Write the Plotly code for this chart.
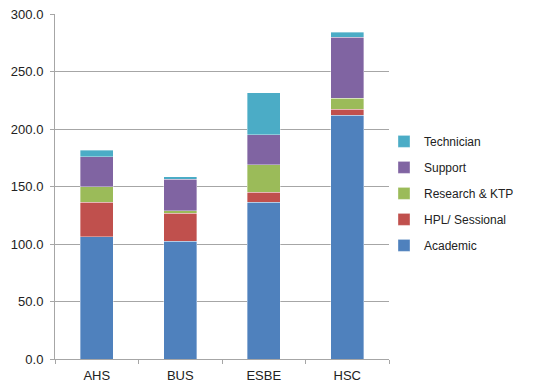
import plotly.graph_objects as go

# Staff FTE by faculty, split by staff category
faculties = ["AHS", "BUS", "ESBE", "HSC"]
academic = [106.1, 102.6, 136.2, 211.8]
hpl_sessional = [30.1, 24.1, 9.0, 5.2]
research_ktp = [13.6, 2.3, 23.8, 9.6]
support = [26.1, 27.2, 26.0, 53.1]
technician = [5.8, 2.3, 36.6, 4.3]

y_ticks = [0, 50, 100, 150, 200, 250, 300]

series = [
    ("Academic", academic, "#4F81BD"),
    ("HPL/ Sessional", hpl_sessional, "#C0504D"),
    ("Research & KTP", research_ktp, "#9BBB59"),
    ("Support", support, "#8064A2"),
    ("Technician", technician, "#4BACC6"),
]

fig = go.Figure()
for i, (name, vals, color) in enumerate(series):
    fig.add_trace(go.Bar(
        x=faculties, y=vals, name=name, legendgroup=name,
        legendrank=1000 - i,
        marker=dict(color=color, line=dict(color="rgba(255,255,255,0.6)", width=0.6)),
    ))

fig.update_layout(
    width=551, height=385,
    margin=dict(l=55, r=162, t=14, b=26, autoexpand=False),
    barmode="stack", bargap=0.6,
    plot_bgcolor="white", paper_bgcolor="white",
    font=dict(family="Liberation Sans, Arial, sans-serif", color="#222222", size=13),
    legend=dict(
        x=0.985, xanchor="left", y=0.48, yanchor="middle",
        traceorder="grouped", tracegroupgap=7,
        font=dict(size=12), bgcolor="rgba(0,0,0,0)",
    ),
)
fig.update_yaxes(
    range=[0, 300], tickvals=y_ticks, tickformat=".1f",
    showgrid=True, gridcolor="#A6A6A6", gridwidth=1,
    showline=True, linecolor="#A6A6A6", linewidth=1,
    ticks="outside", ticklen=4, tickcolor="#A6A6A6",
    ticklabelstandoff=4, zeroline=False, automargin=False,
)
fig.update_xaxes(
    showline=True, linecolor="#A6A6A6", linewidth=1,
    ticks="outside", ticklen=4, tickcolor="#A6A6A6",
    tickson="boundaries", ticklabelstandoff=4, automargin=False,
)

fig.write_html("out.html")
